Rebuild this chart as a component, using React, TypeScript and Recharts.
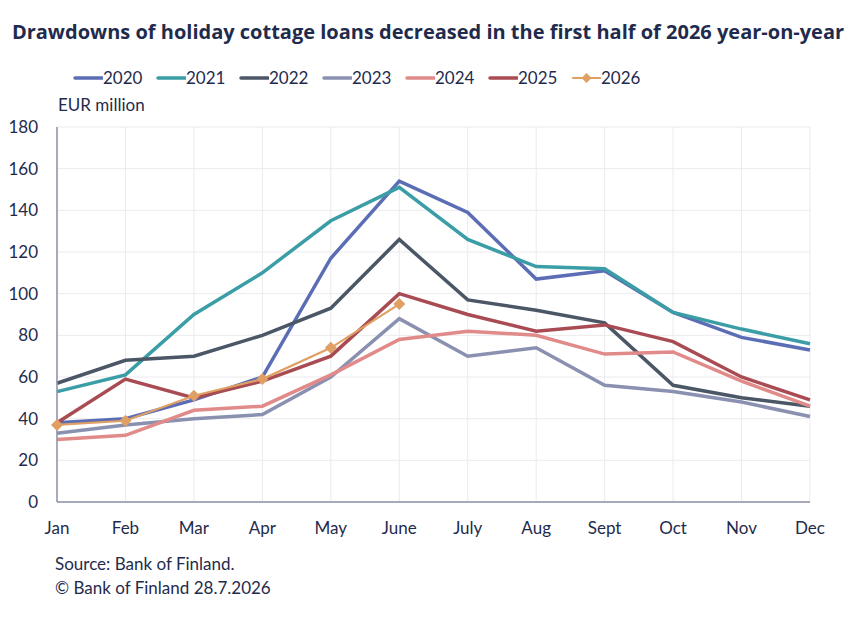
import React from "react";
import {
  LineChart,
  Line,
  XAxis,
  YAxis,
  CartesianGrid,
} from "recharts";

const months = ["Jan", "Feb", "Mar", "Apr", "May", "June", "July", "Aug", "Sept", "Oct", "Nov", "Dec"];

const y2020 = [38, 40, 49, 60, 117, 154, 139, 107, 111, 91, 79, 73];
const y2021 = [53, 61, 90, 110, 135, 151, 126, 113, 112, 91, 83, 76];
const y2022 = [57, 68, 70, 80, 93, 126, 97, 92, 86, 56, 50, 46];
const y2023 = [33, 37, 40, 42, 60, 88, 70, 74, 56, 53, 48, 41];
const y2024 = [30, 32, 44, 46, 61, 78, 82, 80, 71, 72, 58, 46];
const y2025 = [38, 59, 50, 58, 70, 100, 90, 82, 85, 77, 60, 49];
const y2026 = [37, 39, 51, 59, 74, 95];

const yTicks = [0, 20, 40, 60, 80, 100, 120, 140, 160, 180];

const TEXT = "#1f2b4d";
const FONT = "Lato, 'Open Sans', sans-serif";

const series = [
  { key: "2020", values: y2020, color: "#5b6db4", width: 3.5 },
  { key: "2021", values: y2021, color: "#3b9ea6", width: 3.5 },
  { key: "2022", values: y2022, color: "#4b5766", width: 3.5 },
  { key: "2023", values: y2023, color: "#8a90b0", width: 3.5 },
  { key: "2024", values: y2024, color: "#e08b89", width: 3.5 },
  { key: "2025", values: y2025, color: "#a94b53", width: 3.5 },
  { key: "2026", values: y2026, color: "#e0a064", width: 2.2 },
];

const data = months.map((m, i) => {
  const row: Record<string, string | number | undefined> = { month: m };
  series.forEach((s) => {
    row[s.key] = s.values[i];
  });
  return row;
});

function Diamond(props: any) {
  const { cx, cy, index } = props;
  if (cx == null || cy == null) return <g key={index} />;
  const r = 6;
  return (
    <path
      key={index}
      d={`M${cx},${cy - r}L${cx + r},${cy}L${cx},${cy + r}L${cx - r},${cy}Z`}
      fill="#e0a064"
    />
  );
}

// legend row above the plot
function LegendRow() {
  return (
    <div style={{ display: "flex", fontFamily: FONT, fontSize: 17, color: TEXT }}>
      {series.map((s) => (
        <div key={s.key} style={{ display: "flex", alignItems: "center", width: 83 }}>
          <svg width={30} height={12}>
            <line x1={2} y1={6} x2={29} y2={6} stroke={s.color} strokeWidth={s.key === "2026" ? 2.2 : 3.5} strokeLinecap="round" />
            {s.key === "2026" && <path d="M15.5,1L20.5,6L15.5,11L10.5,6Z" fill={s.color} />}
          </svg>
          <span>{s.key}</span>
        </div>
      ))}
    </div>
  );
}

export default function App() {
  return (
    <div style={{ position: "absolute", left: 0, top: 0, width: 856, height: 621, background: "#fff", fontFamily: FONT }}>
      <div
        style={{
          position: "absolute",
          top: 18,
          left: 0,
          width: 856,
          textAlign: "center",
          fontSize: 20,
          fontWeight: 700,
          color: TEXT,
          fontFamily: "'Open Sans', sans-serif",
        }}
      >
        Drawdowns of holiday cottage loans decreased in the first half of 2026 year-on-year
      </div>
      <div style={{ position: "absolute", top: 67, left: 73 }}>
        <LegendRow />
      </div>
      <div style={{ position: "absolute", top: 94, left: 58, fontSize: 17, color: TEXT }}>EUR million</div>
      <div style={{ position: "absolute", top: 552, left: 55, fontSize: 17, color: TEXT, lineHeight: "24px" }}>
        Source: Bank of Finland.
        <br />© Bank of Finland 28.7.2026
      </div>
      <LineChart
        width={856}
        height={621}
        data={data}
        margin={{ top: 127, right: 46, bottom: 0, left: 0 }}
      >
        <CartesianGrid stroke="#ebebef" strokeWidth={1} />
        <XAxis
          dataKey="month"
          height={119}
          tickLine={false}
          tickSize={0}
          tickMargin={20}
          axisLine={{ stroke: "#8b90a8", strokeWidth: 1.5 }}
          tick={{ fill: TEXT, fontSize: 17, fontFamily: FONT }}
          interval={0}
        />
        <YAxis
          width={57}
          domain={[0, 180]}
          ticks={yTicks}
          tickLine={false}
          tickSize={0}
          tickMargin={19}
          axisLine={{ stroke: "#8b90a8", strokeWidth: 1.5 }}
          tick={{ fill: TEXT, fontSize: 17, fontFamily: FONT }}
        />
        {series.map((s) => (
          <Line
            key={s.key}
            dataKey={s.key}
            stroke={s.color}
            strokeWidth={s.width}
            dot={s.key === "2026" ? Diamond : false}
            activeDot={false}
            isAnimationActive={false}
            connectNulls={false}
          />
        ))}
      </LineChart>
    </div>
  );
}
